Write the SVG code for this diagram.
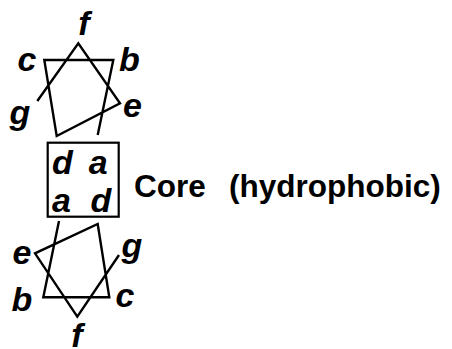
<svg xmlns="http://www.w3.org/2000/svg" width="452" height="349" viewBox="0 0 452 349">
<style>
.ln{fill:none;stroke:#000;stroke-width:2.4;stroke-linejoin:miter}
.lt{font-family:"Liberation Sans",Arial,sans-serif;font-weight:bold;font-style:italic;font-size:34px;text-anchor:middle;fill:#000}
.lb{font-family:"Liberation Sans",Arial,sans-serif;font-weight:bold;font-size:31.5px;fill:#000}
</style>
<rect width="452" height="349" fill="#fff"/>
<g id="connectors">
<polyline class="ln" points="97.7,135 113.3,60 44.3,60 56.7,136 120,103.3 78.3,43.3 37.3,101"/>
<polyline class="ln" points="59,221 43.3,297.3 109.3,297.3 97.7,224 35,253.3 77.3,316.7 119,255"/>
</g>
<g id="top-heptad">
<text class="lt" x="84" y="35">f</text>
<text class="lt" x="27" y="71">c</text>
<text class="lt" x="129.5" y="71">b</text>
<text class="lt" x="20" y="124">g</text>
<text class="lt" x="132.5" y="117">e</text>
</g>
<g id="core">
<rect x="47.7" y="142.7" width="71" height="74" fill="none" stroke="#000" stroke-width="2.2"/>
<text class="lt" x="62.5" y="174">d</text>
<text class="lt" x="98.3" y="174">a</text>
<text class="lt" x="61.5" y="212">a</text>
<text class="lt" x="101" y="212">d</text>
<text class="lb" x="134" y="197">Core</text>
<text class="lb" x="229" y="197">(hydrophobic)</text>
</g>
<g id="bottom-heptad">
<text class="lt" x="22" y="264">e</text>
<text class="lt" x="132" y="257">g</text>
<text class="lt" x="22" y="311">b</text>
<text class="lt" x="125" y="307">c</text>
<text class="lt" x="77" y="347">f</text>
</g>
</svg>
